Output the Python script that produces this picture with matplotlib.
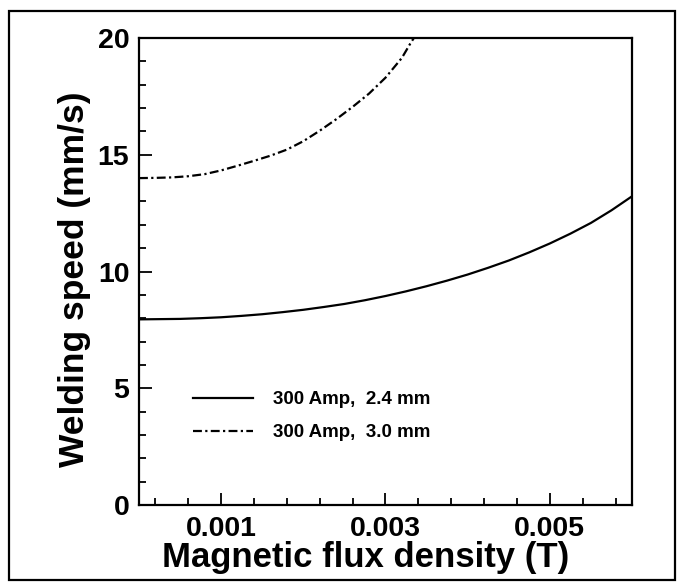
import matplotlib
matplotlib.use("Agg")
import matplotlib.pyplot as plt
from matplotlib.patches import Rectangle
from matplotlib.ticker import FixedLocator, MultipleLocator

plt.rcParams['font.family'] = ['Liberation Sans', 'DejaVu Sans']
plt.rcParams['font.weight'] = 'bold'

# values
b_24 = [0.0, 0.00025, 0.0005, 0.00075, 0.001, 0.00125, 0.0015, 0.00175, 0.002, 0.00225,
        0.0025, 0.00275, 0.003, 0.00325, 0.0035, 0.00375, 0.004, 0.00425, 0.0045, 0.00475,
        0.005, 0.00525, 0.0055, 0.00575, 0.006]
v_24 = [7.95, 7.96, 7.97, 8.00, 8.04, 8.10, 8.17, 8.26, 8.36, 8.48,
        8.61, 8.77, 8.95, 9.15, 9.37, 9.61, 9.87, 10.16, 10.47, 10.82,
        11.20, 11.62, 12.08, 12.62, 13.22]

b_30 = [0.0, 0.0002, 0.0004, 0.0006, 0.0008, 0.001, 0.0012, 0.0014, 0.0016, 0.0018,
        0.002, 0.0022, 0.0024, 0.0026, 0.0028, 0.003, 0.0032, 0.0033, 0.0034]
v_30 = [14.00, 14.01, 14.03, 14.08, 14.17, 14.33, 14.53, 14.74, 14.96, 15.22,
        15.58, 16.03, 16.52, 17.05, 17.62, 18.30, 19.15, 19.75, 20.3]

labels = ["300 Amp,  2.4 mm", "300 Amp,  3.0 mm"]

fig = plt.figure(figsize=(6.77, 5.82), dpi=100)
ax = fig.add_axes([0.2053, 0.1323, 0.7282, 0.8024])

ax.plot(b_24, v_24, color='black', lw=1.6, label=labels[0])
ax.plot(b_30, v_30, color='black', lw=1.6, linestyle=(0, (4, 1.5, 1, 1.5)), label=labels[1])

ax.set_xlim(0, 0.006)
ax.set_ylim(0, 20)
ax.xaxis.set_major_locator(FixedLocator([0.001, 0.003, 0.005]))
ax.xaxis.set_minor_locator(FixedLocator([0.0002, 0.0006, 0.0014, 0.0018, 0.0022, 0.0026, 0.0034,
                                         0.0038, 0.0042, 0.0046, 0.0054, 0.0058]))
ax.set_xticklabels(["0.001", "0.003", "0.005"])
ax.yaxis.set_major_locator(MultipleLocator(5))
ax.yaxis.set_minor_locator(MultipleLocator(1))

ax.tick_params(which='both', direction='in', labelsize=20.5, width=1.3)
ax.tick_params(which='major', length=9)
ax.tick_params(which='minor', length=5)
ax.tick_params(axis='x', pad=8)
ax.tick_params(axis='y', pad=7)
for s in ax.spines.values():
    s.set_linewidth(1.6)

ax.set_xlabel("Magnetic flux density (T)", fontsize=25, fontweight='bold', va='center')
ax.xaxis.set_label_coords(0.459, -0.113)
ax.set_ylabel("Welding speed (mm/s)", fontsize=25.5, fontweight='bold', va='center')
ax.yaxis.set_label_coords(-0.13, 0.483)

ax.legend(loc='upper left', bbox_to_anchor=(0.1095, 0.244), frameon=False, fontsize=13.5,
          borderpad=0, borderaxespad=0, handlelength=3.2, handletextpad=1.05, labelspacing=0.85)

fig.patches.append(Rectangle((9 / 677, 2 / 582), 666 / 677, 569 / 582, transform=fig.transFigure,
                             fill=False, edgecolor='black', lw=1.6))

fig.savefig("out.png", dpi=100)
